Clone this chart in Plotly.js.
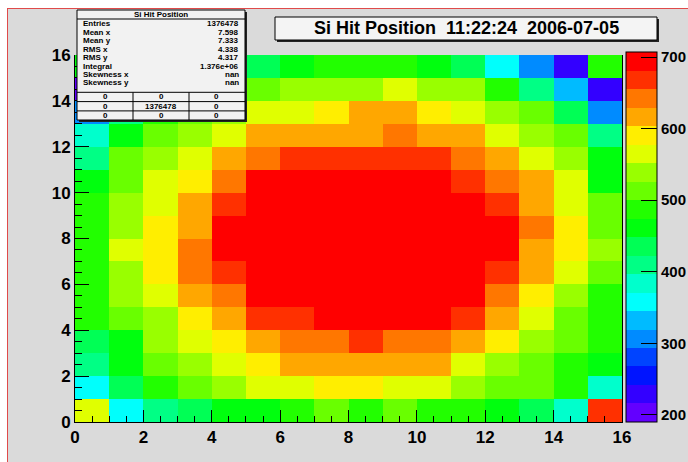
<!DOCTYPE html>
<html>
<head>
<meta charset="utf-8">
<script src="https://cdn.plot.ly/plotly-3.0.1.min.js"></script>
<style>
  html, body { margin: 0; padding: 0; background: #ffffff; }
  #canvasbg {
    position: absolute; left: 7px; top: 8px; width: 681px; height: 454px;
    background: #dadada; border-left: 1px solid #e04a4a; border-top: 1px solid #e04a4a;
  }
  #chart { position: absolute; left: 0; top: 0; width: 688px; height: 462px; }
</style>
</head>
<body>
<div id="canvasbg"></div>
<div id="chart"></div>
<script>
// Bin centres of the 16 x 16 silicon hit map
const xCenters = [0.5, 1.5, 2.5, 3.5, 4.5, 5.5, 6.5, 7.5, 8.5, 9.5, 10.5, 11.5, 12.5, 13.5, 14.5, 15.5];
const yCenters = [0.5, 1.5, 2.5, 3.5, 4.5, 5.5, 6.5, 7.5, 8.5, 9.5, 10.5, 11.5, 12.5, 13.5, 14.5, 15.5];

// Hit counts per bin, one row per y bin (bottom row first)
const hits = [
  [565, 358, 410, 436, 462, 462, 488, 514, 488, 514, 488, 488, 462, 436, 384, 669],
  [358, 436, 488, 514, 539, 565, 565, 591, 591, 565, 565, 539, 514, 514, 488, 384],
  [410, 462, 514, 539, 565, 591, 617, 617, 617, 617, 617, 565, 539, 514, 488, 462],
  [436, 462, 539, 565, 591, 617, 643, 643, 669, 643, 643, 617, 591, 539, 514, 488],
  [488, 514, 539, 591, 617, 669, 669, 695, 695, 695, 695, 669, 617, 565, 514, 488],
  [488, 539, 565, 617, 643, 695, 695, 695, 695, 695, 695, 695, 643, 591, 539, 488],
  [488, 539, 591, 643, 669, 695, 695, 695, 695, 695, 695, 695, 669, 617, 565, 514],
  [488, 565, 591, 643, 695, 695, 695, 695, 695, 695, 695, 695, 695, 617, 591, 539],
  [488, 539, 591, 617, 695, 695, 695, 695, 695, 695, 695, 695, 695, 643, 591, 514],
  [488, 539, 565, 617, 669, 695, 695, 695, 695, 695, 695, 695, 669, 617, 565, 514],
  [462, 514, 565, 591, 643, 695, 695, 695, 695, 695, 695, 669, 643, 617, 565, 462],
  [410, 514, 539, 565, 617, 643, 669, 669, 669, 669, 669, 643, 617, 565, 539, 462],
  [384, 462, 514, 539, 565, 617, 617, 617, 617, 643, 617, 617, 565, 539, 514, 410],
  [307, 410, 488, 514, 539, 565, 565, 591, 617, 617, 591, 565, 539, 514, 436, 307],
  [203, 462, 514, 514, 514, 514, 539, 539, 539, 565, 539, 539, 488, 410, 332, 229],
  [462, 488, 462, 488, 462, 436, 462, 488, 488, 488, 462, 436, 358, 307, 229, 488]
];

const zMin = 190;
const zMax = 707;

// 20 contour levels of the "pretty" palette, lowest first
const paletteColors = [
  'rgb(99,0,255)', 'rgb(51,0,255)', 'rgb(0,20,255)', 'rgb(0,68,255)', 'rgb(0,139,255)',
  'rgb(0,187,255)', 'rgb(0,255,252)', 'rgb(0,255,204)', 'rgb(0,255,133)', 'rgb(0,255,85)',
  'rgb(0,255,14)', 'rgb(34,255,0)', 'rgb(105,255,0)', 'rgb(153,255,0)', 'rgb(224,255,0)',
  'rgb(255,238,0)', 'rgb(255,167,0)', 'rgb(255,119,0)', 'rgb(255,48,0)', 'rgb(255,0,0)'
];

// Statistics panel contents
const statsTitle = 'Si Hit Position';
const statsLabels = ['Entries', 'Mean x', 'Mean y', 'RMS x', 'RMS y', 'Integral', 'Skewness x', 'Skewness y'];
const statsValues = ['1376478', '7.598', '7.333', '4.338', '4.317', '1.376e+06', 'nan', 'nan'];
const statsTable = [
  ['0', '0', '0'],
  ['0', '1376478', '0'],
  ['0', '0', '0']
];
const titleText = 'Si Hit Position\u00a0\u00a011:22:24\u00a0\u00a02006-07-05';

// Stepped colour scale: one flat band per contour level
const colorscale = [];
paletteColors.forEach((c, i) => {
  colorscale.push([i / paletteColors.length, c]);
  colorscale.push([(i + 1) / paletteColors.length, c]);
});

// Page geometry (pixels) and helpers to place panels in paper coordinates
const W = 688, H = 462;
const M = { l: 75, r: 66, t: 55, b: 40, autoexpand: false };
const PW = W - M.l - M.r, PH = H - M.t - M.b;
const px = v => (v - M.l) / PW;
const py = v => (H - M.b - v) / PH;

const FONT = 'Liberation Sans, Arial, Helvetica, sans-serif';
const shapes = [];
const annotations = [];

function box(x0, y0, x1, y1, fill) {
  shapes.push({ type: 'rect', xref: 'paper', yref: 'paper',
    x0: px(x0 + 2), x1: px(x1 + 2), y0: py(y1 + 2), y1: py(y0 + 2),
    fillcolor: '#222', line: { width: 0 } });
  shapes.push({ type: 'rect', xref: 'paper', yref: 'paper',
    x0: px(x0), x1: px(x1), y0: py(y1), y1: py(y0),
    fillcolor: fill, line: { color: '#000', width: 1 } });
}
function hline(x0, x1, y) {
  shapes.push({ type: 'line', xref: 'paper', yref: 'paper',
    x0: px(x0), x1: px(x1), y0: py(y), y1: py(y), line: { color: '#000', width: 1 } });
}
function vline(x, y0, y1) {
  shapes.push({ type: 'line', xref: 'paper', yref: 'paper',
    x0: px(x), x1: px(x), y0: py(y0), y1: py(y1), line: { color: '#000', width: 1 } });
}
function label(text, x, y, anchor, size) {
  annotations.push({ text: text, xref: 'paper', yref: 'paper', x: px(x), y: py(y),
    xanchor: anchor, yanchor: 'middle', showarrow: false,
    font: { family: FONT, size: size, color: '#000', weight: 'bold' } });
}

// Title panel
box(275, 17, 657, 40, '#f4f4f4');
label(titleText, 466, 28.5, 'center', 18);

// Statistics panel
const sx0 = 77, sx1 = 245, sy0 = 10, sy1 = 120;
box(sx0, sy0, sx1, sy1, '#f2f2f2');
label(statsTitle, (sx0 + sx1) / 2, 14.5, 'center', 8);
hline(sx0, sx1, 19);
statsLabels.forEach((t, i) => {
  const y = 24 + i * 8.4;
  label(t, sx0 + 4, y, 'left', 8);
  label(statsValues[i], sx1 - 4, y, 'right', 8);
});
const rowLines = [92.3, 101.6, 110.9];
rowLines.forEach(y => hline(sx0, sx1, y));
const colEdges = [sx0, 133, 189, sx1];
vline(133, 92.3, sy1);
vline(189, 92.3, sy1);
statsTable.forEach((row, r) => {
  row.forEach((t, c) => {
    label(t, (colEdges[c] + colEdges[c + 1]) / 2, rowLines[r] + 4.6, 'center', 8);
  });
});

const tickFont = { family: FONT, size: 17, color: '#000', weight: 'bold' };

const trace = {
  type: 'heatmap',
  x: xCenters,
  y: yCenters,
  z: hits,
  zmin: zMin,
  zmax: zMax,
  colorscale: colorscale,
  hoverinfo: 'skip',
  colorbar: {
    x: px(626), xanchor: 'left', xpad: 0,
    y: 0, yanchor: 'bottom', ypad: 0,
    thicknessmode: 'pixels', thickness: 31,
    lenmode: 'pixels', len: 370,
    outlinewidth: 1, outlinecolor: '#000',
    tick0: 200, dtick: 100,
    ticks: 'inside', ticklen: 16, tickcolor: '#000', tickwidth: 1,
    tickfont: { family: FONT, size: 15, color: '#000', weight: 'bold' }
  }
};

const layout = {
  width: W, height: H,
  margin: M,
  paper_bgcolor: 'rgba(0,0,0,0)',
  plot_bgcolor: 'rgba(0,0,0,0)',
  showlegend: false,
  xaxis: {
    range: [0, 16], tick0: 0, dtick: 2,
    ticks: 'inside', ticklen: 12, tickcolor: '#000', tickwidth: 1,
    minor: { tick0: 0, dtick: 0.5, ticks: 'inside', ticklen: 6, tickcolor: '#000', showgrid: false },
    showline: true, linecolor: '#000', linewidth: 1,
    showgrid: false, zeroline: false,
    tickfont: tickFont
  },
  yaxis: {
    range: [0, 16], tick0: 0, dtick: 2,
    ticks: 'inside', ticklen: 14, tickcolor: '#000', tickwidth: 1,
    minor: { tick0: 0, dtick: 0.5, ticks: 'inside', ticklen: 7, tickcolor: '#000', showgrid: false },
    showline: true, mirror: true, linecolor: '#000', linewidth: 1,
    showgrid: false, zeroline: false,
    tickfont: tickFont
  },
  shapes: shapes,
  annotations: annotations
};

Plotly.newPlot('chart', [trace], layout, { staticPlot: true, displayModeBar: false });
</script>
</body>
</html>
